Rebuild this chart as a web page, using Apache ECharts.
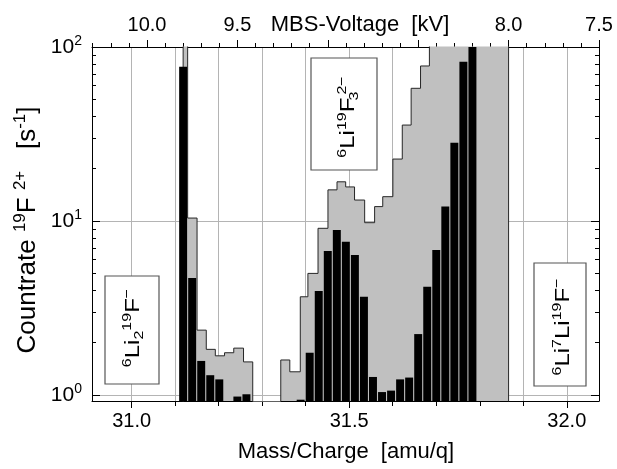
<!DOCTYPE html>
<html>
<head>
<meta charset="utf-8">
<script src="https://cdn.jsdelivr.net/npm/echarts@6/dist/echarts.min.js"></script>
<style>
  html, body { margin: 0; padding: 0; background: #fff; }
  #chart { width: 617px; height: 469px; }
</style>
</head>
<body>
<div id="chart"></div>
<script>
// black bars: MBS voltage (kV) of each step and countrate (s^-1)
var blackVolt = [9.80, 9.75, 9.70, 9.65, 9.60, 9.55, 9.50, 9.45, 9.40, 9.35, 9.30,
  9.25, 9.20, 9.15, 9.10, 9.05, 9.00, 8.95, 8.90, 8.85, 8.80, 8.75, 8.70, 8.65,
  8.60, 8.55, 8.50, 8.45, 8.40, 8.35, 8.30, 8.25, 8.20]
var blackRate = [77, 4.7, 1.57, 1.30, 1.23, null, 0.98, 1.01, null, null, null,
  null, null, 0.94, 1.75, 3.96, 6.72, 8.88, 7.60, 6.38, 3.67, 1.27, 1.04, 1.06,
  1.23, 1.26, 2.24, 4.19, 6.81, 12.1, 28.2, 82.3, 130]

// gray histogram: step edges (kV), rate i holds from edge i to edge i+1
var grayEdge = [9.80, 9.775, 9.723, 9.672, 9.622, 9.571, 9.52, 9.466, 9.415,
  9.26, 9.21, 9.152, 9.11, 9.054, 8.999, 8.949, 8.901, 8.852, 8.796, 8.741,
  8.696, 8.64, 8.588, 8.539, 8.487, 8.438, 8.0]
var grayRate = [150, 10.4, 2.36, 1.83, 1.68, 1.75, 1.86, 1.55, null,
  1.59, 1.36, 3.67, 5.0, 9.08, 15.1, 16.8, 15.7, 13.2, 9.78, 12.1,
  13.8, 22.7, 35.6, 57.9, 77.8, 150]

// ticks
var massLabels = [31.0, 31.5, 32.0]
var massTicks = [31.0, 31.1, 31.2, 31.3, 31.4, 31.5, 31.6, 31.7, 31.8, 31.9, 32.0]
var voltLabels = [10.0, 9.5, 8.0, 7.5]
var voltTicks = [7.5, 8.0, 8.5, 9.0, 9.5, 10.0]
var voltMinor = [7.6, 7.7, 7.8, 7.9, 8.1, 8.2, 8.3, 8.4, 8.6, 8.7, 8.8, 8.9,
  9.1, 9.2, 9.3, 9.4, 9.6, 9.7, 9.8, 9.9, 10.1, 10.2, 10.3]
var rateTicks = [1, 10, 100]
var rateMinor = [2, 3, 4, 5, 6, 7, 8, 9, 20, 30, 40, 50, 60, 70, 80, 90]

var FONT = 'Liberation Sans'
var massMin = 30.909, massMax = 32.074
var voltMin = 7.5, voltMax = 10.304
var rateMin = 0.924, rateMax = 100
var floorRate = 0.3
var barWidth = 0.044

var grayData = [[grayEdge[0], floorRate]]
for (var i = 0; i < grayRate.length; i++) {
  grayData.push([grayEdge[i], grayRate[i] == null ? floorRate : grayRate[i]])
}
grayData.push([grayEdge[grayEdge.length - 1], grayRate[grayRate.length - 1]])
grayData.push([grayEdge[grayEdge.length - 1], floorRate])

var blackData = []
for (var j = 0; j < blackVolt.length; j++) {
  if (blackRate[j] != null) blackData.push([blackVolt[j], blackRate[j]])
}

var black = '#000'
var tickLine = { color: black, width: 1 }

var xAxisOf = function(o) {
  var a = {
    type: 'value', min: o.min, max: o.max, inverse: !!o.inverse,
    position: o.position,
    axisLine: { show: !!o.line, lineStyle: { color: black, width: 1 } },
    axisTick: { show: true, customValues: o.ticks, length: o.len, inside: false, lineStyle: tickLine },
    axisLabel: { show: false },
    splitLine: { show: !!o.split, lineStyle: { color: '#b4b4b4', width: 1 } }
  }
  if (o.labels) {
    a.axisLabel = {
      show: true, customValues: o.labels, margin: o.margin,
      fontSize: 20, fontFamily: FONT, color: black,
      formatter: function(v) { return Number(v).toFixed(1) }
    }
  }
  return a
}

var yAxisOf = function(o) {
  var a = {
    type: 'log', logBase: 10, min: rateMin, max: rateMax,
    position: o.position,
    axisLine: { show: !!o.line, lineStyle: { color: black, width: 1 } },
    axisTick: { show: true, customValues: o.ticks, length: o.len, inside: true, lineStyle: tickLine },
    axisLabel: { show: false },
    splitLine: { show: !!o.split, lineStyle: { color: '#b4b4b4', width: 1 } }
  }
  if (o.labels) {
    a.axisLabel = {
      show: true, customValues: rateTicks, margin: 10,
      formatter: function(v) { return '{b|10}{s|' + Math.round(Math.log10(v)) + '}' },
      rich: {
        b: { fontSize: 21, fontFamily: FONT, color: black, lineHeight: 26 },
        s: { fontSize: 14, fontFamily: FONT, color: black, verticalAlign: 'top', lineHeight: 14 }
      }
    }
  }
  return a
}

var annot = function(x, y, w, h, tx, ty, text) {
  return [
    { type: 'rect', z: 100, shape: { x: x, y: y, width: w, height: h },
      style: { fill: '#fff', stroke: '#555', lineWidth: 1.2 } },
    { type: 'text', z: 101, x: tx, y: ty, rotation: Math.PI / 2, scaleY: 0.85,
      style: {
        text: text, align: 'center', verticalAlign: 'middle', fill: black,
        rich: {
          m: { fontSize: 24, fontFamily: FONT, fill: black, lineHeight: 30 },
          s: { fontSize: 16, fontFamily: FONT, fill: black, lineHeight: 16, verticalAlign: 'top' },
          b: { fontSize: 16, fontFamily: FONT, fill: black, lineHeight: 16, verticalAlign: 'bottom' },
          b3: { fontSize: 16, fontFamily: FONT, fill: black, lineHeight: 16, verticalAlign: 'bottom', width: 3 }
        }
      } }
  ]
}

var myChart = echarts.init(document.getElementById('chart'), null, { renderer: 'canvas' })

var option = {
  animation: false,
  backgroundColor: '#fff',
  textStyle: { fontFamily: FONT },
  grid: { left: 92, right: 18, top: 47, bottom: 68, containLabel: false },
  xAxis: [
    xAxisOf({ min: massMin, max: massMax, position: 'bottom', line: true, ticks: massLabels, len: 7, labels: massLabels, margin: 10 }),
    xAxisOf({ min: voltMin, max: voltMax, inverse: true, position: 'top', line: true, ticks: voltTicks, len: 7, labels: voltLabels, margin: 12 }),
    xAxisOf({ min: massMin, max: massMax, position: 'bottom', ticks: massTicks, len: 5, split: true }),
    xAxisOf({ min: voltMin, max: voltMax, inverse: true, position: 'top', ticks: voltMinor, len: 4 })
  ],
  yAxis: [
    yAxisOf({ position: 'left', line: true, ticks: rateTicks, len: 8, labels: true, split: true }),
    yAxisOf({ position: 'right', line: true, ticks: rateTicks, len: 8 }),
    yAxisOf({ position: 'left', ticks: rateMinor, len: 4 }),
    yAxisOf({ position: 'right', ticks: rateMinor, len: 4 })
  ],
  series: [
    {
      name: 'gray', type: 'line', xAxisIndex: 1, yAxisIndex: 0,
      step: 'end', data: grayData, symbol: 'none', silent: true, z: 2,
      lineStyle: { color: '#262626', width: 1 },
      areaStyle: { color: '#c0c0c0', opacity: 1, origin: 'start' }
    },
    {
      name: 'black', type: 'custom', xAxisIndex: 1, yAxisIndex: 0,
      data: blackData, silent: true, z: 3, clip: true,
      renderItem: function(params, api) {
        var v = api.value(0), r = api.value(1)
        var p0 = api.coord([v + barWidth / 2, r])
        var p1 = api.coord([v - barWidth / 2, r])
        var cs = params.coordSys
        var top = Math.max(p0[1], cs.y)
        var bottom = cs.y + cs.height
        var left = Math.min(p0[0], p1[0])
        var right = Math.max(p0[0], p1[0])
        return {
          type: 'rect',
          shape: { x: left, y: top, width: right - left, height: bottom - top },
          style: { fill: '#000' }
        }
      }
    }
  ],
  graphic: [
    { type: 'text', x: 360, y: 25,
      style: { text: 'MBS-Voltage  [kV]', font: '22px ' + FONT, fill: black, align: 'center', verticalAlign: 'middle' } },
    { type: 'text', x: 346, y: 452,
      style: { text: 'Mass/Charge  [amu/q]', font: '22px ' + FONT, fill: black, align: 'center', verticalAlign: 'middle' } },
    { type: 'text', x: 28, y: 230, rotation: Math.PI / 2,
      style: {
        text: '{m|Countrate }{s|19}{m|F }{s|2+}{m|   [s}{s|-1}{m|]}',
        align: 'center', verticalAlign: 'middle', fill: black,
        rich: {
          m: { fontSize: 26, fontFamily: FONT, fill: black, lineHeight: 32 },
          s: { fontSize: 17, fontFamily: FONT, fill: black, lineHeight: 17, verticalAlign: 'top' }
        }
      } }
  ]
    .concat(annot(105, 276, 54, 108, 133, 328, '{s|6}{m|Li}{b|2}{s|19}{m|F}{s|\u2212}'))
    .concat(annot(534, 263, 52, 123, 563, 327, '{s|6}{m|Li}{s|7}{m|Li}{s|19}{m|F}{s|\u2212}'))
    .concat(annot(311, 58, 66, 112, 348, 117, '{s|6}{m|Li}{s|19}{m|F}{b3|3}{s|2\u2212}'))
}

myChart.setOption(option)
</script>
</body>
</html>
